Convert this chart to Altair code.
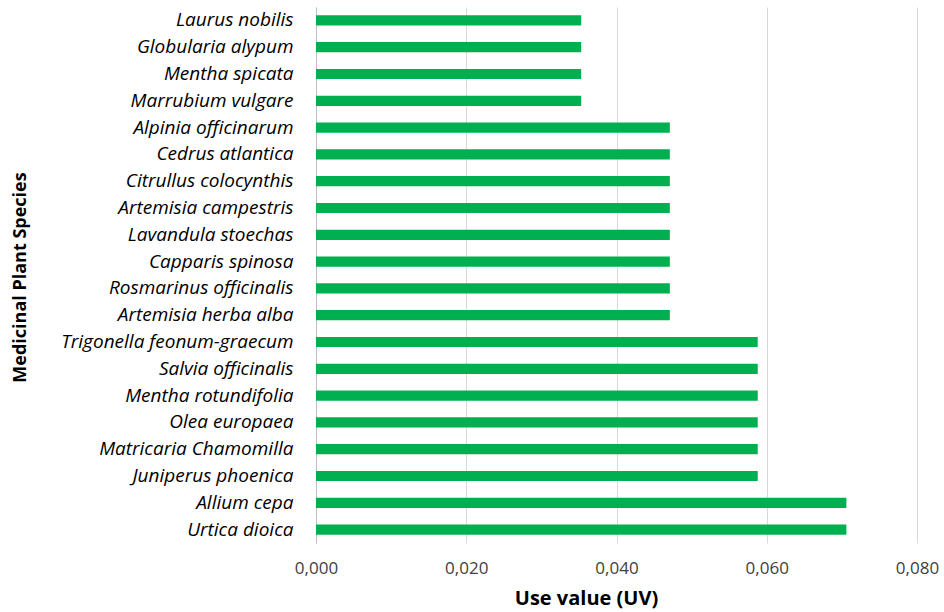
import altair as alt
import pandas as pd

species = [
    "Laurus nobilis", "Globularia alypum", "Mentha spicata", "Marrubium vulgare",
    "Alpinia officinarum", "Cedrus atlantica", "Citrullus colocynthis",
    "Artemisia campestris", "Lavandula stoechas", "Capparis spinosa",
    "Rosmarinus officinalis", "Artemisia herba alba", "Trigonella feonum-graecum",
    "Salvia officinalis", "Mentha rotundifolia", "Olea europaea",
    "Matricaria Chamomilla", "Juniperus phoenica", "Allium cepa", "Urtica dioica",
]
use_value = [
    0.0353, 0.0353, 0.0353, 0.0353,
    0.0471, 0.0471, 0.0471, 0.0471, 0.0471, 0.0471, 0.0471, 0.0471,
    0.0588, 0.0588, 0.0588, 0.0588, 0.0588, 0.0588,
    0.0706, 0.0706,
]
x_ticks = [0.0, 0.02, 0.04, 0.06, 0.08]

df = pd.DataFrame({"species": species, "uv": use_value})

chart = alt.Chart(df).mark_bar(color="#00B050").encode(
    x=alt.X("uv:Q", title="Use value (UV)",
            scale=alt.Scale(domain=[0, 0.08], nice=False),
            axis=alt.Axis(values=x_ticks, grid=True, gridColor="#d9d9d9",
                          domain=False, ticks=False, labelPadding=17, labelFlush=False,
                          labelExpr="replace(format(datum.value, '.3f'), '.', ',')",
                          labelFont="Open Sans", labelFontSize=17, labelColor="#404040",
                          titleFont="Open Sans", titleFontSize=20, titleFontWeight="bold",
                          titleColor="#000000", titlePadding=12, titleX=270)),
    y=alt.Y("species:N", sort=species, title="Medicinal Plant Species",
            scale=alt.Scale(paddingInner=0.62, paddingOuter=0.31),
            axis=alt.Axis(domain=True, domainColor="#bfbfbf", ticks=False, labelPadding=23,
                          labelLimit=400,
                          labelFont="Open Sans", labelFontSize=19, labelFontStyle="italic",
                          labelColor="#000000",
                          titleFont="Open Sans", titleFontSize=18, titleFontWeight="bold",
                          titleColor="#000000", titleAngle=-90, titleX=-296, titleY=270,
                          titleAlign="center", titleBaseline="middle")),
).properties(
    width=601, height=536,
    autosize=alt.AutoSizeParams(type="none"),
    padding={"left": 316, "top": 7, "right": 27, "bottom": 69},
).configure_view(stroke=None)

chart.save("out.html", embed_options={"renderer": "svg", "actions": False})
